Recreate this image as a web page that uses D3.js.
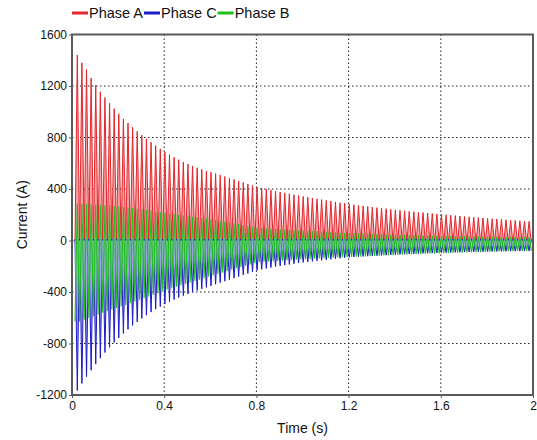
<!DOCTYPE html>
<html>
  <head>
    <meta charset="utf-8">
    <title>inrush current</title>
    <script type="text/javascript" src="https://d3js.org/d3.v7.min.js"></script>
    <style>
      body { margin: 0; background: #fff; }
      text { font-family: "Liberation Sans", Arial, sans-serif; fill: #111; }
    </style>
  </head>
  <body>
    <svg width="537" height="440"></svg>
    <script>
    // time axis ticks and current axis ticks
    var timeTicks = [0, 0.4, 0.8, 1.2, 1.6, 2];
    var currentTicks = [-1200, -800, -400, 0, 400, 800, 1200, 1600];

    // one value per 50 Hz cycle, cycle k peaks at t = 0.023 + 0.02*k
    var firstPeak = 0.023, period = 0.02;

    // Phase A (red) positive peaks
    var phaseAPeak = [
      1441, 1380, 1328, 1262, 1205, 1155, 1110, 1066, 1024, 984,
      944, 912, 880, 848, 818, 790, 763, 737, 712, 689,
      667, 647, 628, 610, 594, 579, 565, 552, 540, 530,
      520, 508, 497, 485, 474, 462, 451, 439, 428, 416,
      408, 400, 392, 385, 377, 370, 363, 356, 349, 342,
      336, 330, 324, 318, 312, 306, 300, 294, 289, 283,
      278, 273, 269, 264, 260, 255, 251, 247, 242, 238,
      234, 231, 227, 224, 220, 217, 213, 210, 206, 203,
      200, 197, 193, 190, 187, 184, 181, 178, 175, 172,
      169, 167, 164, 161, 158, 156, 153, 150, 148
    ];
    var phaseAValley = -20;

    // Phase C (blue) negative peaks
    var phaseCTrough = [
      -1165, -1110, -1058, -1008, -960, -914, -870, -830, -792, -756,
      -722, -690, -660, -632, -605, -580, -556, -534, -513, -494,
      -476, -459, -443, -428, -414, -401, -388, -376, -364, -352,
      -340, -328, -316, -304, -292, -280, -268, -256, -244, -232,
      -224, -217, -210, -204, -198, -192, -186, -180, -175, -170,
      -166, -162, -158, -154, -150, -146, -142, -138, -134, -131,
      -128, -126, -124, -122, -120, -118, -116, -114, -112, -110,
      -108, -106, -105, -103, -102, -100, -99, -98, -96, -95,
      -94, -93, -92, -91, -90, -89, -88, -87, -87, -86,
      -85, -85, -84, -84, -83, -83, -82, -82, -82
    ];
    var phaseCCrest = 10;

    // Phase B (green) positive and negative peaks
    var phaseBPeak = [
      290, 288, 286, 283, 280, 277, 274, 271, 268, 265,
      262, 257, 252, 247, 242, 237, 232, 226, 221, 215,
      210, 205, 200, 195, 190, 185, 180, 175, 170, 165,
      160, 154, 148, 141, 134, 127, 120, 113, 106, 100,
      97, 95, 92, 90, 88, 86, 84, 82, 80, 78,
      76, 74, 72, 70, 68, 66, 64, 62, 60, 58,
      57, 56, 54, 53, 52, 51, 50, 49, 47, 46,
      45, 44, 43, 42, 41, 41, 40, 39, 38, 37,
      36, 36, 35, 35, 34, 33, 33, 32, 32, 31,
      30, 30, 29, 29, 28, 28, 28, 27, 27
    ];
    var phaseBTrough = [
      -630, -616, -602, -588, -575, -562, -549, -536, -524, -512,
      -500, -487, -474, -461, -448, -435, -422, -409, -396, -383,
      -370, -359, -348, -337, -326, -315, -304, -293, -282, -271,
      -260, -249, -238, -227, -216, -206, -196, -186, -176, -166,
      -164, -162, -160, -158, -156, -154, -152, -150, -148, -146,
      -144, -142, -140, -138, -136, -134, -132, -130, -129, -128,
      -126, -125, -123, -122, -120, -119, -117, -116, -114, -113,
      -111, -110, -109, -107, -106, -105, -103, -102, -101, -99,
      -98, -97, -96, -95, -93, -92, -91, -90, -89, -88,
      -86, -85, -84, -83, -82, -81, -80, -79, -78
    ];

    var svg = d3.select("svg");
    var x = d3.scaleLinear().domain([0, 2]).range([72, 533]);
    var y = d3.scaleLinear().domain([-1200, 1600]).range([395, 34.5]);

    svg.append("defs").append("clipPath").attr("id", "plot")
      .append("rect")
      .attr("x", x(0)).attr("y", y(1600))
      .attr("width", x(2) - x(0)).attr("height", y(-1200) - y(1600));

    // dotted grid
    var grid = svg.append("g");
    grid.selectAll(".vg").data(timeTicks.slice(1, -1)).enter().append("line")
      .attr("x1", function(d){ return x(d); }).attr("x2", function(d){ return x(d); })
      .attr("y1", y(1600)).attr("y2", y(-1200))
      .attr("stroke", "#222").attr("stroke-width", 1).attr("stroke-dasharray", "1.5,2.5");
    grid.selectAll(".hg").data(currentTicks.slice(1, -1)).enter().append("line")
      .attr("y1", function(d){ return y(d); }).attr("y2", function(d){ return y(d); })
      .attr("x1", x(0)).attr("x2", x(2))
      .attr("stroke", "#222").attr("stroke-width", 1).attr("stroke-dasharray", "1.5,2.5");

    // zig-zag point lists: extreme at the cycle peak, the other extreme half a cycle either side
    function wave(first, second) {
      var w0 = Array.isArray(second) ? second[0] : second;
      var pts = [[firstPeak - period / 2, w0]];
      first.forEach(function(v, k){
        var t = firstPeak + period * k;
        var w = Array.isArray(second) ? second[k] : second;
        pts.push([t, v]);
        pts.push([t + period / 2, w]);
      });
      return pts;
    }

    var line = d3.line().x(function(d){ return x(d[0]); }).y(function(d){ return y(d[1]); });
    function area(base) {
      return d3.area().x(function(d){ return x(d[0]); })
        .y0(y(base)).y1(function(d){ return y(d[1]); });
    }

    var traces = svg.append("g").attr("clip-path", "url(#plot)");

    var waveA = wave(phaseAPeak, phaseAValley);
    traces.append("path").attr("d", area(phaseAValley)(waveA))
      .attr("fill", "#f5a3a5");
    traces.append("path").attr("d", line(waveA))
      .attr("fill", "none").attr("stroke", "#e3262c").attr("stroke-width", 1);

    var waveC = wave(phaseCTrough, phaseCCrest);
    traces.append("path").attr("d", area(phaseCCrest)(waveC))
      .attr("fill", "#9ea2ea");
    traces.append("path").attr("d", line(waveC))
      .attr("fill", "none").attr("stroke", "#1c1cc8").attr("stroke-width", 1);

    var waveB = wave(phaseBPeak, phaseBTrough);
    traces.append("path").attr("d", area(0)(waveB))
      .attr("fill", "#86d69a").attr("fill-opacity", 0.8);
    traces.append("path").attr("d", line(waveB))
      .attr("fill", "none").attr("stroke", "#1fbf1f").attr("stroke-width", 1.1);

    // frame and axes
    svg.append("rect")
      .attr("x", x(0)).attr("y", y(1600))
      .attr("width", x(2) - x(0)).attr("height", y(-1200) - y(1600))
      .attr("fill", "none").attr("stroke", "#5a5a5a").attr("stroke-width", 2);

    var plain = function(d){ return String(d); };
    var yAxis = svg.append("g").attr("transform", "translate(" + x(0) + ",0)")
      .call(d3.axisLeft(y).tickValues(currentTicks).tickSize(3).tickPadding(2).tickFormat(plain));
    var xAxis = svg.append("g").attr("transform", "translate(0," + y(-1200) + ")")
      .call(d3.axisBottom(x).tickValues(timeTicks).tickSize(3).tickPadding(3).tickFormat(plain));
    [yAxis, xAxis].forEach(function(a){
      a.select(".domain").remove();
      a.selectAll("line").attr("stroke", "#5a5a5a");
      a.selectAll("text").attr("font-size", 12).attr("font-family", "Liberation Sans, Arial, sans-serif").attr("fill", "#111");
    });

    svg.append("text").attr("x", (x(0) + x(2)) / 2).attr("y", 433)
      .attr("text-anchor", "middle").attr("font-size", 14).text("Time (s)");
    svg.append("text")
      .attr("transform", "translate(27," + ((y(1600) + y(-1200)) / 2) + ") rotate(-90)")
      .attr("text-anchor", "middle").attr("font-size", 14).text("Current (A)");

    // legend
    var legendItems = [
      {name: "Phase A", color: "#e3262c"},
      {name: "Phase C", color: "#1c1cc8"},
      {name: "Phase B", color: "#1fbf1f"}
    ];
    var lx = 72;
    legendItems.forEach(function(d){
      svg.append("line").attr("x1", lx).attr("x2", lx + 16).attr("y1", 13).attr("y2", 13)
        .attr("stroke", d.color).attr("stroke-width", 3);
      var t = svg.append("text").attr("x", lx + 17).attr("y", 18).attr("font-size", 14.5).text(d.name);
      lx += 17 + t.node().getComputedTextLength() + 1;
    });
    </script>
  </body>
</html>
